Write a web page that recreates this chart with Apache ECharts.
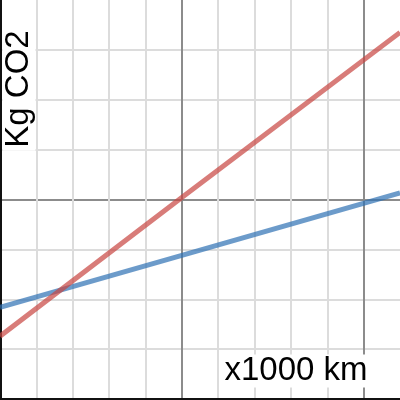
<!DOCTYPE html>
<html><head><meta charset="utf-8">
<script src="https://cdn.jsdelivr.net/npm/echarts@6/dist/echarts.min.js"></script>
<style>html,body{margin:0;padding:0;background:#fff}#c{width:400px;height:400px}</style>
</head><body><div id="c"></div>
<script>
var xLabel = 'x1000 km';
var yLabel = 'Kg CO2';
var xRange = [-5, 6];
var yRange = [-4, 4];
var redX = [-5, 0, 6];
var redY = [-2.74, 0.04, 3.35];
var blueX = [-5, 0, 6];
var blueY = [-2.16, -1.12, 0.13];

function pairs(xs, ys){ return xs.map(function(x,i){ return [x, ys[i]]; }); }

var chart = echarts.init(document.getElementById('c'), null, {renderer:'canvas'});
var minor = {show:true, lineStyle:{color:'#dcdcdc', width:2}, showMinLine:false, showMaxLine:false};
var major = {show:true, lineStyle:{color:'#8c8c8c', width:2}, showMinLine:false, showMaxLine:false};
chart.setOption({
  animation:false,
  backgroundColor:'#fff',
  grid:{left:0, right:0, top:0, bottom:1, containLabel:false},
  xAxis:[
    {type:'value', min:xRange[0], max:xRange[1], interval:1, axisLabel:{show:false}, axisTick:{show:false},
     axisLine:{show:true, onZero:false, lineStyle:{color:'#111', width:3}}, splitLine:minor},
    {type:'value', min:xRange[0], max:xRange[1], interval:5, position:'bottom', axisLabel:{show:false}, axisTick:{show:false},
     axisLine:{show:false}, splitLine:major}
  ],
  yAxis:[
    {type:'value', min:yRange[0], max:yRange[1], interval:1, axisLabel:{show:false}, axisTick:{show:false},
     axisLine:{show:true, onZero:false, lineStyle:{color:'#111', width:3}}, splitLine:minor},
    {type:'value', min:yRange[0], max:yRange[1], interval:4, position:'left', axisLabel:{show:false}, axisTick:{show:false},
     axisLine:{show:false}, splitLine:major}
  ],
  series:[
    {type:'line', data:pairs(blueX, blueY), showSymbol:false, symbol:'none',
     lineStyle:{color:'#2d70b3', width:5, opacity:0.7}, z:3},
    {type:'line', data:pairs(redX, redY), showSymbol:false, symbol:'none',
     lineStyle:{color:'#c74440', width:5, opacity:0.7}, z:4}
  ],
  graphic:[
    {type:'text', x:296, y:371, z:100, style:{text:xLabel, font:'33px "Liberation Sans", Arial, sans-serif', fill:'#000',
      align:'center', verticalAlign:'middle', backgroundColor:'#fff', padding:[0,3]}},
    {type:'text', x:19, y:89, rotation:Math.PI/2, z:100, style:{text:yLabel, font:'33px "Liberation Sans", Arial, sans-serif', fill:'#000',
      align:'center', verticalAlign:'middle', backgroundColor:'#fff', padding:[0,3]}}
  ]
});
</script></body></html>
